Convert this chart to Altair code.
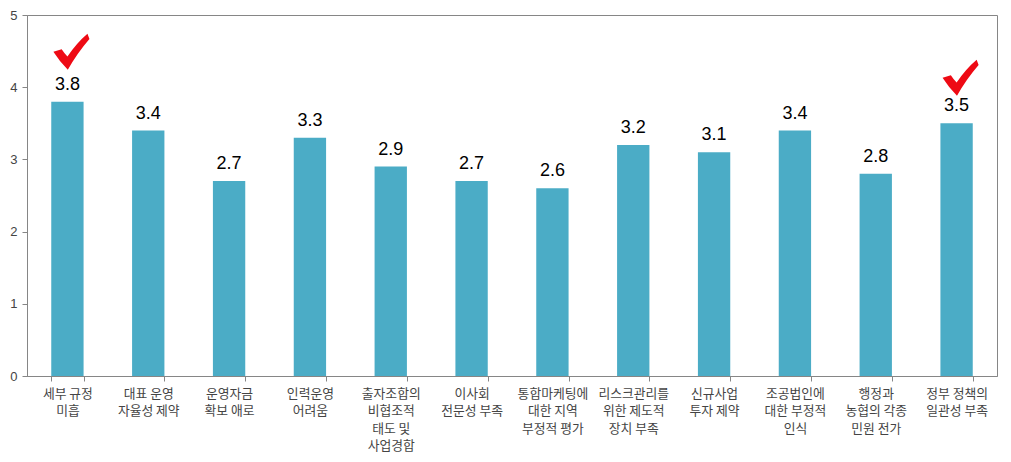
import altair as alt
import pandas as pd

categories = ["세부 규정|미흡", "대표 운영|자율성 제약", "운영자금|확보 애로", "인력운영|어려움",
              "출자조합의|비협조적|태도 및|사업경합", "이사회|전문성 부족", "통합마케팅에|대한 지역|부정적 평가",
              "리스크관리를|위한 제도적|장치 부족", "신규사업|투자 제약", "조공법인에|대한 부정적|인식",
              "행정과|농협의 각종|민원 전가", "정부 정책의|일관성 부족"]
values = [3.8, 3.4, 2.7, 3.3, 2.9, 2.7, 2.6, 3.2, 3.1, 3.4, 2.8, 3.5]
check_categories = [categories[0], categories[-1]]
check_levels = [4.49, 4.13]

df = pd.DataFrame({"cat": categories, "val": values})
checks = pd.DataFrame({"cat": check_categories, "level": check_levels})

GRAY = "#868686"
x = alt.X("cat:N", sort=categories, title=None,
          scale=alt.Scale(paddingInner=0.6, paddingOuter=0.3),
          axis=alt.Axis(labelAngle=0, tickBand="extent", labelExpr="split(datum.label, '|')",
                        labelFont="Noto Sans CJK KR", labelFontSize=12.8, labelColor="#444444",
                        labelLineHeight=17.5, labelPadding=6, labelLimit=100, tickSize=5,
                        labelBaseline="top", tickColor=GRAY, domainColor=GRAY, grid=False))
y = alt.Y("val:Q", title=None, scale=alt.Scale(domain=[0, 5], nice=False),
          axis=alt.Axis(values=[0, 1, 2, 3, 4, 5], format="d", grid=False, tickSize=5, labelPadding=5,
                        labelFont="Liberation Sans", labelFontSize=13, labelColor="#444444",
                        tickColor=GRAY, domainColor=GRAY))

bars = alt.Chart(df).mark_bar(color="#4BACC6").encode(x=x, y=y)
labels = alt.Chart(df).mark_text(font="Liberation Sans", fontSize=18, color="black",
                                 baseline="bottom", dy=-8).encode(
    x=alt.X("cat:N", sort=categories), y="val:Q", text=alt.Text("val:Q", format=".1f"))
CHECK = ("M-1,0 L-0.54,-0.14 Q-0.4,0.08 -0.22,0.26 Q0.3,-0.5 0.89,-1 L1,-0.71 "
         "Q0.3,0.1 -0.2,1 Q-0.65,0.55 -1,0 Z")
marks = alt.Chart(checks).mark_point(shape=CHECK, size=1300, filled=True, color="#EE0A14",
                                     opacity=1, strokeWidth=0, xOffset=4).encode(
    x=alt.X("cat:N", sort=categories), y=alt.Y("level:Q"))

chart = (bars + labels + marks).properties(
    width=970, height=361,
    autosize=alt.AutoSizeParams(type="none"),
    padding={"left": 19, "top": 7, "right": 6, "bottom": 84},
    background="white",
).configure_view(stroke=GRAY, strokeWidth=1)

chart.save("out.html", embed_options={"renderer": "svg", "actions": False})
